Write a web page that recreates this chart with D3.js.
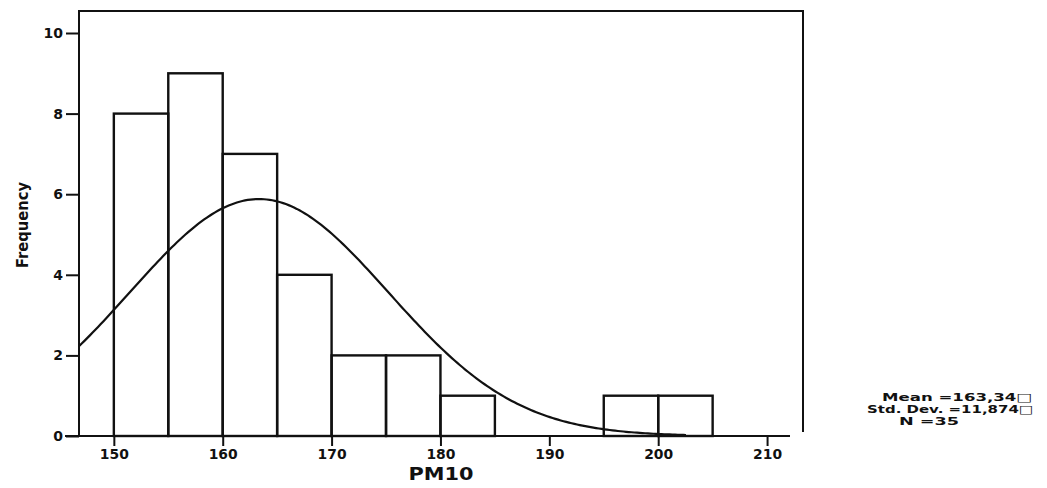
<!DOCTYPE html>
<html>
<head>
<meta charset="utf-8">
<script src="https://cdn.jsdelivr.net/npm/d3@7"></script>
<style>
  body { margin: 0; background: #fff; }
  text { font-family: "DejaVu Sans", Arial, sans-serif; fill: #111; }
</style>
</head>
<body>
<div id="chart"></div>
<script>
// histogram bins (lower edge, width 5) and frequencies
var binStarts = [150, 155, 160, 165, 170, 175, 180, 185, 190, 195, 200];
var counts    = [8, 9, 7, 4, 2, 2, 1, 0, 0, 1, 1];
var binWidth = 5;

var xTicks = [150, 160, 170, 180, 190, 200, 210];
var yTicks = [0, 2, 4, 6, 8, 10];

// summary stats printed beside the chart
var statLabels = ["Mean =163,34\u25A1", "Std. Dev. =11,874\u25A1", "N =35"];
var mean = 163.34, sd = 11.874, n = 35;

var width = 1047, height = 488;

var svg = d3.select("#chart").append("svg")
    .attr("width", width)
    .attr("height", height);

var x = d3.scaleLinear().domain([146.8, 213.3]).range([79, 803]);
var y = d3.scaleLinear().domain([0, 10]).range([436, 33]);

// frame
svg.append("path")
    .attr("d", "M79," + y(0) + "V11H803V432")
    .attr("fill", "none")
    .attr("stroke", "#111")
    .attr("stroke-width", 2);

// bars
var bars = binStarts.map(function(b, i) { return {x0: b, x1: b + binWidth, c: counts[i]}; })
    .filter(function(d) { return d.c > 0; });

svg.selectAll("rect.bar").data(bars).enter().append("rect")
    .attr("class", "bar")
    .attr("x", function(d) { return x(d.x0); })
    .attr("width", function(d) { return x(d.x1) - x(d.x0); })
    .attr("y", function(d) { return y(d.c); })
    .attr("height", function(d) { return y(0) - y(d.c); })
    .attr("fill", "none")
    .attr("stroke", "#111")
    .attr("stroke-width", 2.4);

// fitted normal curve (scaled to counts)
var curveX = d3.range(146.8, 202.6, 0.25);
var scaleK = n * binWidth / (sd * Math.sqrt(2 * Math.PI));
var curvePts = curveX.map(function(v) {
    var z = (v - mean) / sd;
    return [v, scaleK * Math.exp(-0.5 * z * z)];
});

svg.append("path")
    .datum(curvePts)
    .attr("d", d3.line().x(function(d) { return x(d[0]); }).y(function(d) { return y(d[1]); }))
    .attr("fill", "none")
    .attr("stroke", "#111")
    .attr("stroke-width", 2.2);

// axes
var xAxis = svg.append("g")
    .attr("transform", "translate(0," + y(0) + ")")
    .call(d3.axisBottom(x).tickValues(xTicks).tickSize(10).tickPadding(3).tickSizeOuter(0));

var yAxis = svg.append("g")
    .attr("transform", "translate(79,0)")
    .call(d3.axisLeft(y).tickValues(yTicks).tickSize(13).tickPadding(3).tickSizeOuter(0));

[xAxis, yAxis].forEach(function(g) {
    g.select(".domain").attr("stroke", "#111").attr("stroke-width", 2);
    g.selectAll(".tick line").attr("stroke", "#111").attr("stroke-width", 2);
    g.selectAll(".tick text")
        .attr("fill", "#111")
        .style("font-family", "'DejaVu Sans', Arial, sans-serif")
        .style("font-size", "14px")
        .style("font-weight", "bold");
});
yAxis.select(".domain").remove();
xAxis.select(".domain").attr("d", "M65,0H790");
// reference digits are drawn a little wide
xAxis.selectAll(".tick text")
    .attr("textLength", 29)
    .attr("lengthAdjust", "spacingAndGlyphs");

// axis titles
svg.append("text")
    .attr("x", 441)
    .attr("y", 480)
    .attr("text-anchor", "middle")
    .attr("textLength", 65)
    .attr("lengthAdjust", "spacingAndGlyphs")
    .style("font-size", "18px")
    .style("font-weight", "bold")
    .text("PM10");

svg.append("text")
    .attr("transform", "translate(28,225) rotate(-90)")
    .attr("text-anchor", "middle")
    .attr("textLength", 86)
    .attr("lengthAdjust", "spacingAndGlyphs")
    .style("font-size", "16px")
    .style("font-weight", "bold")
    .text("Frequency");

// stats block
var statX = [957, 950, 929];
var statW = [150, 166, 60];
svg.selectAll("text.stat").data(statLabels).enter().append("text")
    .attr("class", "stat")
    .attr("x", function(d, i) { return statX[i]; })
    .attr("y", function(d, i) { return 401 + i * 12; })
    .attr("text-anchor", "middle")
    .attr("textLength", function(d, i) { return statW[i]; })
    .attr("lengthAdjust", "spacingAndGlyphs")
    .style("font-size", "11px")
    .style("font-weight", "bold")
    .text(function(d) { return d; });
</script>
</body>
</html>
